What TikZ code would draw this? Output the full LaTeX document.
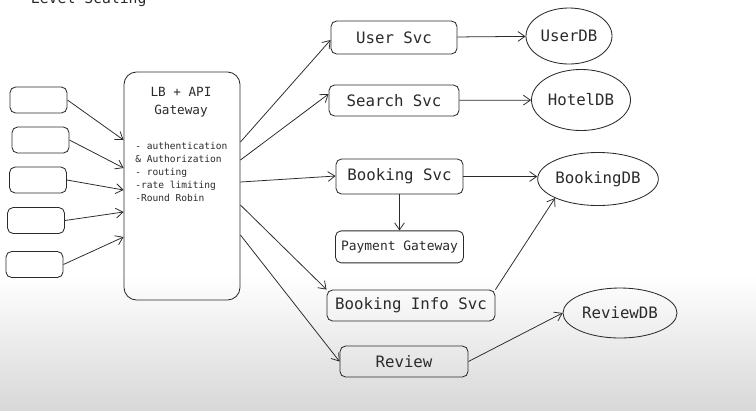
\documentclass[tikz,border=0pt]{standalone}
\usepackage{fontspec}
\setmonofont{DejaVu Sans Mono}
\usepackage{tikz}
\usetikzlibrary{arrows.meta,positioning,shapes.geometric}
\usepackage{xcolor}
\definecolor{ink}{HTML}{2b2b2b}
\definecolor{shadow}{HTML}{d8d8d8}

\begin{document}
\begin{tikzpicture}[x=0.025cm, y=-0.025cm, font=\ttfamily, >={Straight Barb[length=5pt,width=7pt]},
  box/.style={draw=ink, line width=0.6pt, rounded corners=4pt, inner sep=0pt, text=ink},
  db/.style={draw=ink, line width=0.6pt, ellipse, inner sep=0pt, text=ink},
  link/.style={->, draw=ink, line width=0.55pt}]
% page and background
\clip (0,0) rectangle (756,410);
\fill[white] (0,0) rectangle (756,410);
\shade[top color=white, bottom color=shadow] (0,275) rectangle (756,410);
\node[anchor=base west, font=\ttfamily\fontsize{10.5}{12}\selectfont, text=ink] (title) at (26,3) {Level Scaling};

% clients
\node[box, minimum width=1.425cm, minimum height=0.65cm] (c1) at (38.5,100) {};
\node[box, minimum width=1.425cm, minimum height=0.65cm] (c2) at (40.5,140) {};
\node[box, minimum width=1.425cm, minimum height=0.65cm] (c3) at (38,180) {};
\node[box, minimum width=1.425cm, minimum height=0.65cm] (c4) at (36,220.5) {};
\node[box, minimum width=1.425cm, minimum height=0.65cm] (c5) at (34.5,264.5) {};

% gateway
\node[box, rounded corners=9pt, minimum width=2.9cm, minimum height=5.7cm] (gw) at (182,186) {};
\node[align=center, text=ink, font=\ttfamily\fontsize{9}{12.8}\selectfont] (gwtitle) at (181,102) {LB + API\\Gateway};
\node[anchor=north west, align=left, text=ink, inner sep=0pt, font=\ttfamily\fontsize{6.8}{9.2}\selectfont] (gwlist) at (135,142)
  {- authentication\\\& Authorization\\- routing\\-rate limiting\\-Round Robin};

% services
\node[box, font=\ttfamily\fontsize{11.2}{13}\selectfont, minimum width=3.15cm, minimum height=0.825cm] (user) at (394,37.5) {User Svc};
\node[box, font=\ttfamily\fontsize{11.2}{13}\selectfont, minimum width=3.25cm, minimum height=0.775cm] (search) at (394,100.5) {Search Svc};
\node[box, font=\ttfamily\fontsize{11.2}{13}\selectfont, minimum width=3.175cm, minimum height=0.875cm] (booking) at (399.5,176.5) {Booking Svc};
\node[box, font=\ttfamily\fontsize{9.2}{11}\selectfont, minimum width=3.2cm, minimum height=0.8cm, below=0.9cm of booking] (payment) {Payment Gateway};
\node[box, font=\ttfamily\fontsize{11.2}{13}\selectfont, minimum width=4.2cm, minimum height=0.775cm] (info) at (411,305.5) {Booking Info Svc};
\node[box, font=\ttfamily\fontsize{11.2}{13}\selectfont, minimum width=3.2cm, minimum height=0.775cm] (review) at (404,361.5) {Review};

% databases
\node[db, font=\ttfamily\fontsize{11.2}{13}\selectfont, minimum width=2.15cm, minimum height=1.4cm] (userdb) at (569,36) {UserDB};
\node[db, font=\ttfamily\fontsize{11.2}{13}\selectfont, minimum width=2.475cm, minimum height=1.525cm] (hoteldb) at (581,100) {HotelDB};
\node[db, font=\ttfamily\fontsize{11.2}{13}\selectfont, minimum width=2.925cm, minimum height=1.325cm] (bookingdb) at (598,179) {BookingDB};
\node[db, font=\ttfamily\fontsize{11.2}{13}\selectfont, minimum width=2.85cm, minimum height=1.25cm] (reviewdb) at (620,313) {ReviewDB};

% clients -> gateway
\draw[link] (c1.east) -- (gw.west |- 0,140);
\draw[link] (c2.east) -- (gw.west |- 0,168);
\draw[link] (c3.east) -- (gw.west |- 0,190);
\draw[link] (c4.east) -- (gw.west |- 0,212);
\draw[link] (c5.east) -- (gw.west |- 0,237);

% gateway -> services
\draw[link] (gw.east |- 0,142) -- (user.west |- 0,40);
\draw[link] (gw.east |- 0,160) -- (search.west |- 0,94);
\draw[link] (gw.east |- 0,182) -- (booking.west |- 0,176);
\draw[link] (gw.east |- 0,205) -- (info.north west);
\draw[link] (gw.east |- 0,235) -- (review.west);

% services -> databases
\draw[link] (user) -- (userdb);
\draw[link] (search) -- (hoteldb);
\draw[link] (booking) -- (bookingdb.west |- booking);
\draw[link] (booking) -- (payment);
\draw[link] (info.north east) -- (bookingdb.south west);
\draw[link] (review.east) -- (reviewdb.west);
\end{tikzpicture}
\end{document}
